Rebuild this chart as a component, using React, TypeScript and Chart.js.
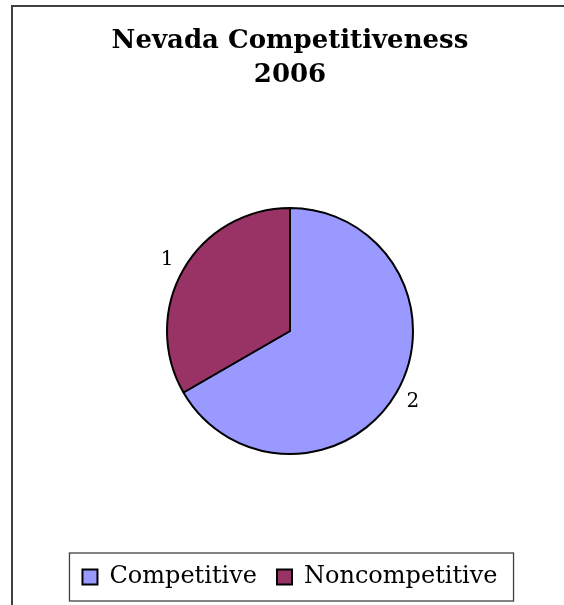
import React, { useEffect, useRef } from "react";
import { Chart, registerables } from "chart.js";

Chart.register(...registerables);

const categories: string[] = ["Competitive", "Noncompetitive"];
const values: number[] = [2, 1];
const sliceColors: string[] = ["#9999FF", "#993366"];
const titleLines: string[] = ["Nevada Competitiveness", "2006"];

const FONT = "'DejaVu Serif', 'Liberation Serif', serif";

const framePlugin = {
  id: "frame",
  beforeDraw(chart: any) {
    const ctx = chart.ctx;
    ctx.save();
    ctx.fillStyle = "#ffffff";
    ctx.fillRect(0, 0, chart.width, chart.height);
    ctx.strokeStyle = "#404040";
    ctx.lineWidth = 2;
    ctx.strokeRect(12, 6, chart.width + 20, chart.height + 20);
    ctx.restore();
  },
};

const legendBoxPlugin = {
  id: "legendBox",
  afterDraw(chart: any) {
    const lg = chart.legend;
    const hb = lg && lg.legendHitBoxes;
    if (!hb || !hb.length) return;
    const first = hb[0];
    const last = hb[hb.length - 1];
    const left = first.left - 13;
    const right = last.left + last.width + 16;
    const cy = first.top + first.height / 2;
    const ctx = chart.ctx;
    ctx.save();
    ctx.strokeStyle = "#404040";
    ctx.lineWidth = 1.3;
    ctx.strokeRect(left, cy - 24, right - left, 48);
    ctx.restore();
  },
};

const valueLabelPlugin = {
  id: "valueLabels",
  afterDatasetsDraw(chart: any) {
    const meta = chart.getDatasetMeta(0);
    const ds = chart.data.datasets[0];
    const ctx = chart.ctx;
    ctx.save();
    ctx.font = `20px ${FONT}`;
    ctx.fillStyle = "#000000";
    ctx.textAlign = "center";
    ctx.textBaseline = "middle";
    meta.data.forEach((arc: any, i: number) => {
      const p = arc.getProps(["x", "y", "startAngle", "endAngle", "outerRadius"], true);
      const mid = (p.startAngle + p.endAngle) / 2;
      const r = p.outerRadius + 19;
      ctx.fillText(String(ds.data[i]), p.x + Math.cos(mid) * r, p.y + Math.sin(mid) * r);
    });
    ctx.restore();
  },
};

export default function App() {
  const ref = useRef<HTMLCanvasElement | null>(null);

  useEffect(() => {
    if (!ref.current) return;
    const chart = new Chart(ref.current, {
      type: "pie",
      data: {
        labels: categories,
        datasets: [
          {
            data: values,
            backgroundColor: sliceColors,
            borderColor: "#000000",
            borderWidth: 2,
            radius: 123,
          } as any,
        ],
      },
      options: {
        animation: false,
        responsive: false,
        events: [],
        layout: { padding: { left: 16, right: 0, top: 0, bottom: 6 } },
        plugins: {
          title: {
            display: true,
            text: titleLines,
            color: "#000000",
            font: { family: FONT, size: 26, weight: "bold", lineHeight: "34px" } as any,
            padding: { top: 24, bottom: 25 },
          },
          legend: {
            display: true,
            position: "bottom",
            labels: {
              color: "#000000",
              font: { family: FONT, size: 24 },
              boxWidth: 15,
              boxHeight: 15,
              padding: 20,
            },
          },
          tooltip: { enabled: false },
        },
      },
      plugins: [framePlugin, legendBoxPlugin, valueLabelPlugin],
    });
    return () => chart.destroy();
  }, []);

  return (
    <div style={{ position: "absolute", left: 0, top: 0, width: 564, height: 605, overflow: "hidden" }}>
      <canvas ref={ref} width={564} height={605} style={{ display: "block", width: 564, height: 605 }} />
    </div>
  );
}
